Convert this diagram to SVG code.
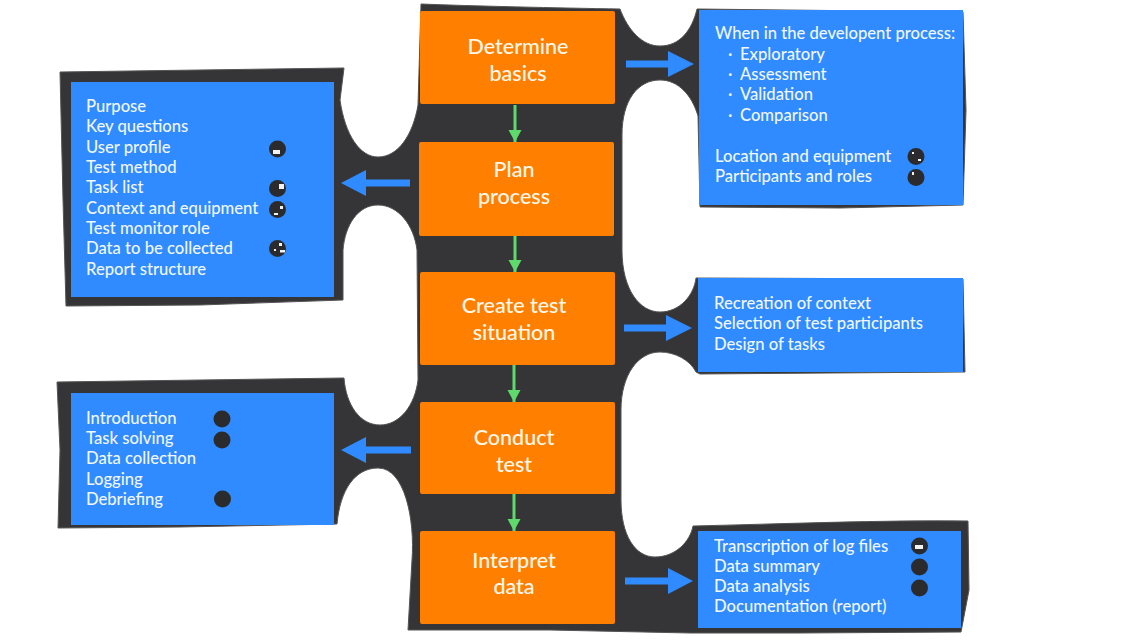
<svg xmlns="http://www.w3.org/2000/svg" width="1127" height="641" viewBox="0 0 1127 641">
<style>
.step{fill:#ff8000;rx:2px}
.box{fill:#2f8bff}
.h{font:500 21.5px Lato,"Open Sans",sans-serif;fill:#fff8ea;text-anchor:middle}
.t{font:500 16.6px Lato,"Open Sans",sans-serif;fill:#f0f7ff}
.dot{fill:#2b2b2d}
.mark{fill:#f2f2f2}
.flow{fill:none;stroke:#5fd86c;stroke-width:3}
.side{fill:none;stroke:#2f8bff;stroke-width:7}
</style>
<defs>
<marker id="g" markerUnits="userSpaceOnUse" markerWidth="14" markerHeight="14" refX="12" refY="7" orient="auto"><path d="M0,0.500L12,7L0,13.500Z" fill="#5fd86c"/></marker>
</defs>
<rect width="1127" height="641" fill="#fff"/>
<path id="backdrop" fill="#353537" stroke="#555" stroke-width="1" d="M421,4C470,6 560,8 620,9C628,30 642,46 660,46C680,46 692,30 697,9L963,12L966,110L963,205L840,208L700,207L698,116C692,95 678,80 660,80C638,80 622,100 622,135L622,250C622,290 640,312 660,312C680,312 694,295 696,278L963,279L965,372L700,374L696,372C690,360 675,352 660,352C638,352 621,375 621,410L621,500C621,535 635,557 655,557C675,557 690,542 693,526C780,524 880,520 968,521L969,590L961,632L800,633L690,633L550,630L408,630L412,560C415,520 405,468 378,468C355,468 340,490 337,524L180,527L58,528L60,450L57,382L200,380L344,378C346,405 360,425 380,425C400,425 415,405 418,380L417,250C414,225 398,205 378,205C358,205 345,225 343,250L343,300L200,305L66,306L63,200L60,72L200,70L344,68L340,100C345,135 360,157 378,157C398,157 413,135 418,105Z"/>
<g id="connectors">
<path class="flow" d="M515,105V142" marker-end="url(#g)"/>
<path class="flow" d="M515,236V272" marker-end="url(#g)"/>
<path class="flow" d="M514,365V402" marker-end="url(#g)"/>
<path class="flow" d="M514,494V531" marker-end="url(#g)"/>
<path class="side" d="M626,64H672"/><path d="M668,51L694,64L668,77Z" fill="#2f8bff"/>
<path class="side" d="M410,183H362"/><path d="M366,170L341,183L366,196Z" fill="#2f8bff"/>
<path class="side" d="M624,328H670"/><path d="M666,315L692,328L666,341Z" fill="#2f8bff"/>
<path class="side" d="M411,450H364"/><path d="M366,437L341,450L366,463Z" fill="#2f8bff"/>
<path class="side" d="M625,581H670"/><path d="M668,568L693,581L668,594Z" fill="#2f8bff"/>
</g>
<g id="determine-basics"><rect class="step" x="420" y="11" width="195" height="93"/><text class="h" x="518" y="54">Determine</text><text class="h" x="518" y="81">basics</text></g>
<g id="plan-process"><rect class="step" x="419" y="142" width="195" height="94"/><text class="h" x="514" y="177">Plan</text><text class="h" x="514" y="204">process</text></g>
<g id="create-test-situation"><rect class="step" x="420" y="272" width="195" height="93"/><text class="h" x="514" y="313">Create test</text><text class="h" x="514" y="340">situation</text></g>
<g id="conduct-test"><rect class="step" x="420" y="402" width="195" height="92"/><text class="h" x="514" y="445">Conduct</text><text class="h" x="514" y="472">test</text></g>
<g id="interpret-data"><rect class="step" x="420" y="531" width="195" height="93"/><text class="h" x="514" y="568">Interpret</text><text class="h" x="514" y="594">data</text></g>
<g id="plan-details"><rect class="box" x="71" y="82" width="263" height="215"/>
<text class="t" x="86" y="112">Purpose</text><text class="t" x="86" y="132">Key questions</text><text class="t" x="86" y="153">User profile</text><text class="t" x="86" y="173">Test method</text><text class="t" x="86" y="193">Task list</text><text class="t" x="86" y="214">Context and equipment</text><text class="t" x="86" y="234">Test monitor role</text><text class="t" x="86" y="254">Data to be collected</text><text class="t" x="86" y="275">Report structure</text>
<circle class="dot" cx="277.500" cy="149" r="8.500"/><rect class="mark" x="273" y="150" width="7" height="4"/>
<circle class="dot" cx="277.500" cy="188.500" r="8.500"/><rect class="mark" x="279" y="184" width="5" height="5"/>
<circle class="dot" cx="277.500" cy="209.500" r="8.500"/><rect class="mark" x="280" y="206" width="3" height="3"/><rect class="mark" x="274" y="213" width="4" height="2"/>
<circle class="dot" cx="277.500" cy="248.500" r="8.500"/><rect class="mark" x="279" y="243" width="3" height="3"/><rect class="mark" x="280" y="250" width="5" height="2.500"/><rect class="mark" x="274" y="249" width="2" height="2"/>
</g>
<g id="basics-details"><rect class="box" x="699" y="10" width="264" height="195"/>
<text class="t" x="715" y="39">When in the developent process:</text>
<text class="t" x="728" y="60">· </text><text class="t" x="740" y="60">Exploratory</text>
<text class="t" x="728" y="80">· </text><text class="t" x="740" y="80">Assessment</text>
<text class="t" x="728" y="100">· </text><text class="t" x="740" y="100">Validation</text>
<text class="t" x="728" y="121">· </text><text class="t" x="740" y="121">Comparison</text>
<text class="t" x="715" y="162">Location and equipment</text><text class="t" x="715" y="182">Participants and roles</text>
<circle class="dot" cx="916" cy="156.500" r="8.500"/><rect class="mark" x="912" y="152" width="2" height="2"/><rect class="mark" x="918" y="159" width="3" height="2"/>
<circle class="dot" cx="916" cy="177.500" r="8.500"/><rect class="mark" x="912" y="172" width="2" height="3"/>
</g>
<g id="situation-details"><rect class="box" x="698" y="278" width="265" height="94"/>
<text class="t" x="714" y="309">Recreation of context</text><text class="t" x="714" y="329">Selection of test participants</text><text class="t" x="714" y="350">Design of tasks</text></g>
<g id="conduct-details"><rect class="box" x="71" y="393" width="263" height="132"/>
<text class="t" x="86" y="424">Introduction</text><text class="t" x="86" y="444">Task solving</text><text class="t" x="86" y="464">Data collection</text><text class="t" x="86" y="485">Logging</text><text class="t" x="86" y="505">Debriefing</text>
<circle class="dot" cx="222" cy="419" r="8.500"/><circle class="dot" cx="222" cy="440" r="8.500"/><circle class="dot" cx="222.500" cy="499" r="8.500"/>
</g>
<g id="interpret-details"><rect class="box" x="698" y="531" width="263" height="97"/>
<text class="t" x="714" y="552">Transcription of log files</text><text class="t" x="714" y="572">Data summary</text><text class="t" x="714" y="592">Data analysis</text><text class="t" x="714" y="612">Documentation (report)</text>
<circle class="dot" cx="919.500" cy="546" r="8.500"/><rect class="mark" x="915" y="545" width="8" height="4"/>
<circle class="dot" cx="919.500" cy="567" r="8.500"/><circle class="dot" cx="919.500" cy="588" r="8.500"/>
</g>
</svg>
